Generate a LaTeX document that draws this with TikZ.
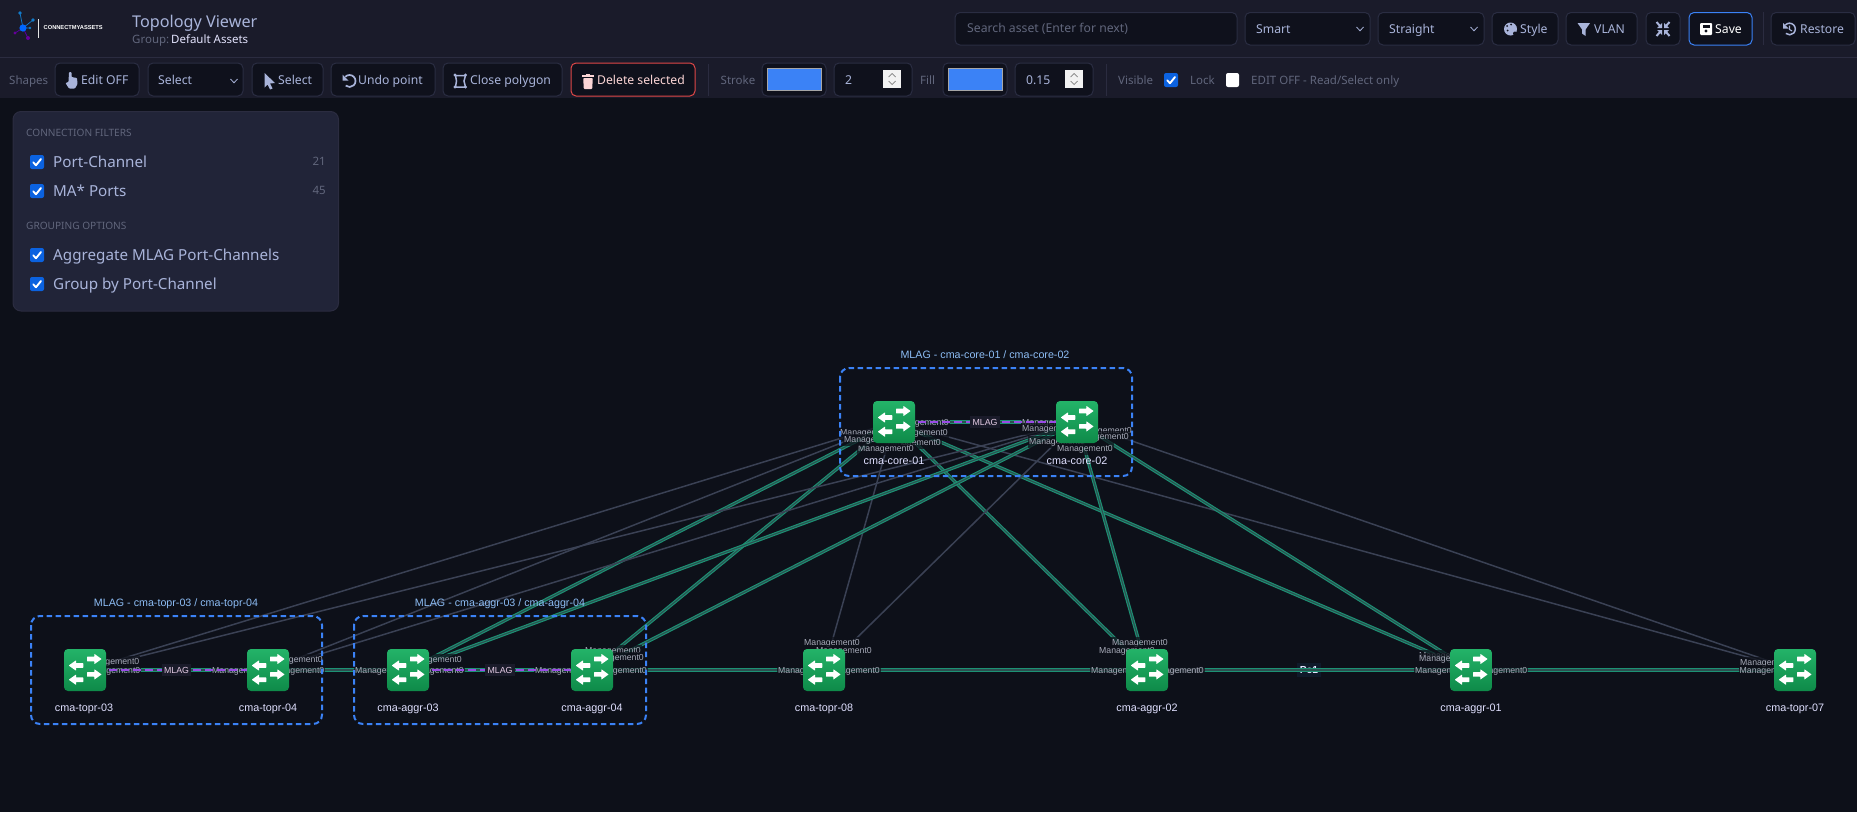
\documentclass[tikz,border=0pt]{standalone}
\usepackage{fontspec}
\setmainfont{Liberation Sans}
\newfontfamily\uifont{Noto Sans}
\usetikzlibrary{backgrounds}
\definecolor{canvasbg}{HTML}{0D1019}
\definecolor{barbg}{HTML}{1A1B2A}
\definecolor{barline}{HTML}{2B2C40}
\definecolor{ctlbg}{HTML}{0F111C}
\definecolor{ctlline}{HTML}{2A2D42}
\definecolor{uitext}{HTML}{A9B4DA}
\definecolor{dimtext}{HTML}{61667C}
\definecolor{panelbg}{HTML}{212438}
\definecolor{checkblue}{HTML}{0B62E0}
\definecolor{swatch}{HTML}{3B82F6}
\definecolor{redline}{HTML}{E04848}
\definecolor{redtext}{HTML}{FBD5D5}
\definecolor{grpblue}{HTML}{3B82F6}
\definecolor{grptext}{HTML}{8DBDF5}
\definecolor{grayedge}{HTML}{3A4154}
\definecolor{tealedge}{HTML}{1C9274}
\definecolor{tealcore}{HTML}{2C4F50}
\definecolor{purpleedge}{HTML}{9A4BE6}
\definecolor{lbltext}{HTML}{A6AAB8}
\definecolor{swtop}{HTML}{23B368}
\definecolor{swbot}{HTML}{0E8A49}
\definecolor{pcbg}{HTML}{0F1A2A}
\pgfdeclarelayer{canvas}
\pgfdeclarelayer{edgelayer}
\pgfdeclarelayer{labellayer}
\pgfsetlayers{canvas,edgelayer,labellayer,main}
\newcommand\arrR[2]{\fill[white,rounded corners=.4] (#1-7.3,#2-2.3) -- (#1,#2-2.3) -- (#1,#2-5.2) -- (#1+7.3,#2) -- (#1,#2+5.2) -- (#1,#2+2.3) -- (#1-7.3,#2+2.3) -- cycle;}
\newcommand\arrL[2]{\fill[white,rounded corners=.4] (#1+7.3,#2-2.3) -- (#1,#2-2.3) -- (#1,#2-5.2) -- (#1-7.3,#2) -- (#1,#2+5.2) -- (#1,#2+2.3) -- (#1+7.3,#2+2.3) -- cycle;}
\newcommand\chk[2]{\fill[checkblue,rounded corners=2] (#1-7,#2-7) rectangle (#1+7,#2+7);
  \draw[white,line width=1.9,line cap=round,line join=round] (#1-3.8,#2+.3) -- (#1-1,#2+3.2) -- (#1+4,#2-3);}
\newcommand\chev[2]{\draw[uitext,line width=.8] (#1-3.5,#2-2) -- (#1,#2+1.8) -- (#1+3.5,#2-2);}
\newcommand\spinner[2]{\fill[white!90!gray] (#1,#2) rectangle (#1+18,#2+18);
  \draw[gray,line width=.7] (#1+5.5,#2+7) -- (#1+9,#2+3.5) -- (#1+12.5,#2+7);
  \draw[gray,line width=.7] (#1+5.5,#2+11) -- (#1+9,#2+14.5) -- (#1+12.5,#2+11);}
\tikzset{
  x=1pt,y=-1pt,
  ctl/.style={draw=ctlline,fill=ctlbg,line width=1,rounded corners=5},
  fixedline/.style={text height=7.5pt,text depth=2.5pt},
  uit/.style={font=\uifont\fontsize{12.2}{15}\selectfont,text=uitext,inner sep=0,anchor=west,fixedline,yshift=-1.6pt},
  dimt/.style={font=\uifont\fontsize{11.5}{15}\selectfont,text=dimtext,inner sep=0,anchor=west,fixedline,yshift=-1.4pt},
  panelhead/.style={font=\uifont\fontsize{10.1}{12}\selectfont,text=dimtext,inner sep=0,anchor=west,fixedline,yshift=-1.8pt},
  paneltext/.style={font=\uifont\fontsize{15.2}{18}\selectfont,text=uitext,inner sep=0,anchor=west,fixedline,yshift=-3.4pt},
  panelcount/.style={font=\uifont\fontsize{11.5}{14}\selectfont,text=dimtext,inner sep=0,anchor=east,fixedline,yshift=-1.4pt},
  switchbox/.style={rectangle,rounded corners=4,minimum size=42pt,inner sep=0,draw=none,top color=swtop,bottom color=swbot,
    path picture={\begin{scope}[shift={(path picture bounding box.center)}]
      \arrR{9.3}{-11}\arrR{9.3}{4.4}\arrL{-9}{-4.5}\arrL{-9}{9.7}\end{scope}}},
  swname/.style={font=\fontsize{10.8}{13}\selectfont,text=white!88!blue,inner sep=0,yshift=-1.8pt},
  grpbox/.style={draw=grpblue,line width=2,dash pattern=on 5.5pt off 3.5pt,rounded corners=9},
  grptitle/.style={font=\fontsize{10.7}{13}\selectfont,text=grptext,inner sep=0,yshift=-1.8pt},
  mgmt/.style={font=\fontsize{8.7}{10}\selectfont,text=lbltext,fill=canvasbg,fill opacity=.72,text opacity=1,inner xsep=1,inner ysep=2,yshift=-1pt},
  mlagl/.style={font=\fontsize{8.8}{10}\selectfont,text=white!80!violet,fill=barbg,inner xsep=2.5,inner ysep=2.5},
  maedge/.style={draw=grayedge,line width=1.5},
  pcedge/.style={draw=tealedge,line width=1.1,double=tealcore,double distance=1.1},
  mlagedge/.style={draw=purpleedge,line width=2.6,dash pattern=on 8pt off 4pt},
}
\begin{document}
\begin{tikzpicture}
\useasboundingbox (0,0) rectangle (1857,812);
% ---------- switches
\node[switchbox] (core1) at (894,422) {};
\node[switchbox] (core2) at (1077,422) {};
\node[switchbox] (topr3) at (85,670) {};
\node[switchbox] (topr4) at (268,670) {};
\node[switchbox] (aggr3) at (408,670) {};
\node[switchbox] (aggr4) at (592,670) {};
\node[switchbox] (topr8) at (824,670) {};
\node[switchbox] (aggr2) at (1147,670) {};
\node[switchbox] (aggr1) at (1471,670) {};
\node[switchbox] (topr7) at (1795,670) {};
\node[swname] (ncore1) at (894,459) {cma-core-01};
\node[swname] (ncore2) at (1077,459) {cma-core-02};
\node[swname] (ntopr3) at (84,707) {cma-topr-03};
\node[swname] (ntopr4) at (268,707) {cma-topr-04};
\node[swname] (naggr3) at (408,707) {cma-aggr-03};
\node[swname] (naggr4) at (592,707) {cma-aggr-04};
\node[swname] (ntopr8) at (824,707) {cma-topr-08};
\node[swname] (naggr2) at (1147,707) {cma-aggr-02};
\node[swname] (naggr1) at (1471,707) {cma-aggr-01};
\node[swname] (ntopr7) at (1795,707) {cma-topr-07};
% ---------- MLAG groups
\draw[grpbox] (840,368) rectangle (1132,476);
\draw[grpbox] (31,616) rectangle (322,724);
\draw[grpbox] (354,616) rectangle (646,724);
\node[grptitle] (gcore) at (985,353) {MLAG - cma-core-01 / cma-core-02};
\node[grptitle] (gtopr) at (176,602) {MLAG - cma-topr-03 / cma-topr-04};
\node[grptitle] (gaggr) at (500,602) {MLAG - cma-aggr-03 / cma-aggr-04};
% ---------- MLAG labels
\node[mlagl] (mlag1) at (985,422) {MLAG};
\node[mlagl] (mlag2) at (176.5,670) {MLAG};
\node[mlagl] (mlag3) at (500,670) {MLAG};
% ---------- connectors
\begin{pgfonlayer}{edgelayer}
\foreach \s in {core1,core2}{
  \foreach \t in {topr3,topr4,topr8,topr7} \draw[maedge] (\s.center) -- (\t.center);
  \foreach \t in {aggr3,aggr4,aggr2,aggr1} \draw[pcedge] (\s.center) -- (\t.center);
}
\draw[pcedge] (topr3.center) -- (topr4.center);
\draw[pcedge] (topr4.center) -- (aggr3.center);
\draw[pcedge] (aggr3.center) -- (aggr4.center);
\draw[pcedge] (aggr4.center) -- (topr8.center);
\draw[pcedge] (topr8.center) -- (aggr2.center);
\draw[pcedge] (aggr2.center) -- (aggr1.center);
\draw[pcedge] (aggr1.center) -- (topr7.center);
\draw[pcedge] (core1.center) -- (core2.center);
\end{pgfonlayer}
% ---------- port labels
\begin{pgfonlayer}{labellayer}
\foreach \x/\y [count=\i] in {921/422,920/432,913/442,886/448,868/432,872/439,
  1050/422,1050/428,1057/441,1104/430,1101/436,1085/448,
  111.5/661,112.5/670,240/670,295/659,296.5/670,
  383/670,434/659,436/670,563/670,613/650,616/657,619/670,
  806/670,852/670,832/642,844/650,
  1140/642,1127/650,1119/670,1175/670,1176/670,
  1447/655,1447/658,1443/670,1499.5/670,
  1768/662,1767.5/670}
  \node[mgmt] (port\i) at (\x,\y) {Management0};
\draw[mlagedge] (core1.center) -- (core2.center);
\draw[mlagedge] (topr3.center) -- (topr4.center);
\draw[mlagedge] (aggr3.center) -- (aggr4.center);
\end{pgfonlayer}
\begin{pgfonlayer}{canvas}
\fill[canvasbg] (0,0) rectangle (1857,812);
\node[font=\bfseries\fontsize{10.2}{12}\selectfont,text=white!90!blue,fill=pcbg,inner xsep=3,inner ysep=3.5] (pc1) at (1309,670) {Pc1};
% ---------- bars
\fill[barbg] (0,0) rectangle (1857,98);
\draw[barline,line width=1] (0,57.5) -- (1857,57.5);
% logo
\draw[white!80!gray,line width=.6] (38,19) -- (38,38);
\draw[cyan!60!blue,line width=.7] (23,28) -- (20,13) (23,28) -- (33,20) (23,28) -- (30,28);
\draw[violet!70!blue,line width=.7] (23,28) -- (15,33) (23,28) -- (28,38);
\fill[cyan!60!blue] (20,13) circle (1.8) (33,20) circle (1.8) (30,28) circle (1.3);
\fill[blue!60!cyan] (23,28) circle (3.6);
\fill[violet!80!blue] (15,33) circle (1.6) (28,38) circle (2);
\node[font=\bfseries\fontsize{5.7}{7}\selectfont,text=white,inner sep=0,anchor=west] (logo) at (43.5,28) {CONNECTMYASSETS};
\node[uit,font=\uifont\bfseries\fontsize{16.2}{18}\selectfont,yshift=-1.6pt] (title) at (132,22) {Topology Viewer};
\node[dimt] (grp) at (132,40) {Group:};
\node[dimt,text=white!90!blue] (grpv) at (171,40) {Default Assets};
% top row
\draw[ctl] (955,12.5) rectangle (1237,45);
\node[dimt,font=\uifont\fontsize{12.2}{15}\selectfont] (search) at (967,29) {Search asset (Enter for next)};
\draw[ctl] (1245,12.5) rectangle (1370,45);
\node[uit] (smart) at (1256,29) {Smart}; \chev{1360}{29}
\draw[ctl] (1378,12.5) rectangle (1484,45);
\node[uit] (straight) at (1389,29) {Straight}; \chev{1474}{29}
\draw[ctl] (1492,12.5) rectangle (1558,45);
\fill[uitext] (1510.5,29) circle (6.5);
\fill[ctlbg] (1507,26) circle (1) (1511,24.5) circle (1) (1507.5,30.5) circle (1) (1515,33.5) circle (2);
\node[uit] (style) at (1520,29) {Style};
\draw[ctl] (1566,12.5) rectangle (1637,45);
\fill[uitext] (1577.5,23) -- (1590,23) -- (1585.6,29.5) -- (1585.6,36) -- (1582,33.5) -- (1582,29.5) -- cycle;
\node[uit] (vlan) at (1594,29) {VLAN};
\draw[ctl] (1646,12.5) rectangle (1680,45);
\foreach \sx/\sy in {1/1,-1/1,1/-1,-1/-1}{
  \fill[uitext] (1663+\sx*1,29+\sy*1) -- (1663+\sx*1,29+\sy*6) -- (1663+\sx*6,29+\sy*1) -- cycle;
  \draw[uitext,line width=2] (1663+\sx*3,29+\sy*3) -- (1663+\sx*6.5,29+\sy*7);
}
\draw[ctl,draw=grpblue] (1689,12.5) rectangle (1752,45);
\fill[white,rounded corners=1] (1700,23) rectangle (1712,35);
\fill[ctlbg] (1702.5,24.5) rectangle (1709.5,27.5);
\fill[ctlbg] (1706,31) circle (1.7);
\node[uit,text=white] (save) at (1715,29) {Save};
\draw[barline,line width=1] (1763.5,12) -- (1763.5,45);
\draw[ctl] (1771,12.5) rectangle (1855,45);
\draw[uitext,line width=1.5] (1789.5,29) ++(225:5.8) arc[start angle=225,end angle=490,radius=5.8];
\fill[uitext] (1783,23) -- (1783,28.5) -- (1788.5,28.5) -- cycle;
\draw[uitext,line width=1.1] (1789.5,25.5) -- (1789.5,29.5) -- (1792,31);
\node[uit] (restore) at (1800,29) {Restore};
% second row
\node[dimt] (shapes) at (9,80.5) {Shapes};
\draw[ctl] (55,63) rectangle (139,96);
\fill[uitext,rounded corners=.8] (69,72) -- (71.5,72) -- (71.5,77) -- (77,78) -- (77.5,84) -- (75,88.5) -- (69,88.5) -- (65.5,83) -- (68.5,82) -- cycle;
\node[uit] (editoff) at (81,80.5) {Edit OFF};
\draw[ctl] (148,63) rectangle (243,96);
\node[uit] (selectd) at (158,80.5) {Select}; \chev{234}{81}
\draw[ctl] (252,63) rectangle (323,96);
\fill[uitext] (264.5,73) -- (275,83) -- (270,83.5) -- (272.5,88.5) -- (270,89.5) -- (267.5,84.5) -- (264.5,87.5) -- cycle;
\node[uit] (selectb) at (278,80.5) {Select};
\draw[ctl] (331,63) rectangle (435,96);
\draw[uitext,line width=1.7] (349.5,81) ++(225:6) arc[start angle=225,end angle=490,radius=6];
\fill[uitext] (342.5,74.5) -- (342.5,80.5) -- (348.5,80.5) -- cycle;
\node[uit] (undo) at (358,80.5) {Undo point};
\draw[ctl] (443,63) rectangle (562,96);
\draw[uitext,line width=1.5] (455.5,75.5) -- (465.5,75.5) -- (464,81) -- (465.5,87) -- (455.5,87) -- (456.5,81) -- cycle;
\fill[uitext] (455,75) circle (1.6) (465.5,75) circle (1.6) (465.5,87) circle (1.6) (455,87) circle (1.6);
\node[uit] (close) at (470,80.5) {Close polygon};
\draw[ctl,draw=redline] (571,63) rectangle (695,96);
\fill[redtext] (582,75) rectangle (594,77);
\fill[redtext] (586,74) rectangle (590,76);
\fill[redtext,rounded corners=.8] (583.2,78) -- (592.8,78) -- (592.2,89) -- (583.8,89) -- cycle;
\node[uit,text=redtext] (del) at (597,80.5) {Delete selected};
\draw[barline,line width=1] (708.5,64) -- (708.5,96);
\node[dimt] (stroke) at (720.5,80.5) {Stroke};
\draw[ctl] (762,63) rectangle (826,96);
\fill[swatch] (767,68) rectangle (821,90);
\draw[gray!70,line width=.7] (767,68) rectangle (821,90);
\draw[ctl] (834,63) rectangle (912,96);
\node[uit] (strokeval) at (845,80.5) {2};
\spinner{883}{70}
\node[dimt] (fill) at (920,80.5) {Fill};
\draw[ctl] (943,63) rectangle (1007,96);
\fill[swatch] (948,68) rectangle (1002,90);
\draw[gray!70,line width=.7] (948,68) rectangle (1002,90);
\draw[ctl] (1015,63) rectangle (1093,96);
\node[uit] (fillval) at (1026,80.5) {0.15};
\spinner{1065}{70}
\draw[barline,line width=1] (1106.5,64) -- (1106.5,96);
\node[dimt] (visible) at (1118,80.5) {Visible};
\chk{1171}{80}
\node[dimt] (lock) at (1190,80.5) {Lock};
\fill[white,rounded corners=2] (1226,73) rectangle (1239,87);
\node[dimt] (editinfo) at (1251,80.5) {EDIT OFF - Read/Select only};
% ---------- panel
\fill[panelbg,draw=barline,line width=1,rounded corners=8] (13,111.5) rectangle (338.5,311);
\node[panelhead] (ph1) at (26,132) {CONNECTION FILTERS};
\chk{37}{162}
\node[paneltext] (f1) at (53,162) {Port-Channel};
\node[panelcount] (c1) at (326,162) {21};
\chk{37}{191}
\node[paneltext] (f2) at (53,191) {MA* Ports};
\node[panelcount] (c2) at (326,191) {45};
\node[panelhead] (ph2) at (26,225) {GROUPING OPTIONS};
\chk{37}{255}
\node[paneltext] (f3) at (53,255) {Aggregate MLAG Port-Channels};
\chk{37}{284}
\node[paneltext] (f4) at (53,284) {Group by Port-Channel};
\end{pgfonlayer}
\end{tikzpicture}
\end{document}
